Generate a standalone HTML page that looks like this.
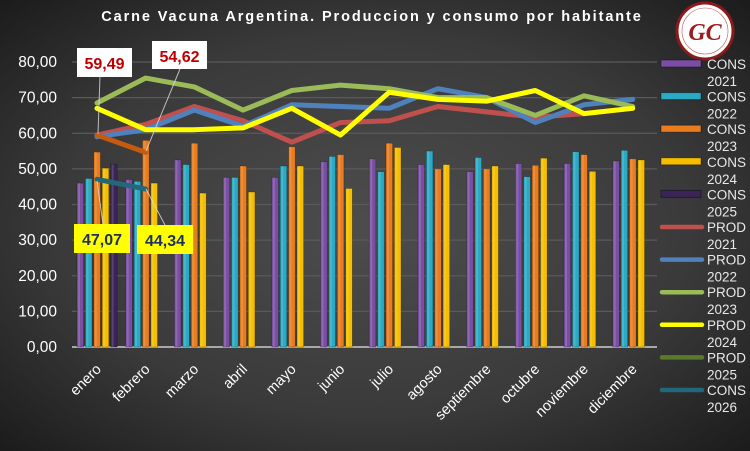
<!DOCTYPE html>
<html><head><meta charset="utf-8"><style>
html,body{margin:0;padding:0;width:750px;height:451px;overflow:hidden;background:#2a2a2a}
svg{display:block;font-family:"Liberation Sans",sans-serif}
</style></head><body>
<svg width="750" height="451" viewBox="0 0 750 451" xmlns="http://www.w3.org/2000/svg">
<defs>
<radialGradient id="bg" cx="50%" cy="50%" r="70%">
<stop offset="0" stop-color="#4d4d4d"/><stop offset="0.6" stop-color="#3a3a3a"/><stop offset="1" stop-color="#1c1c1c"/>
</radialGradient>
</defs>
<rect width="750" height="451" fill="url(#bg)"/>
<text x="372" y="21" fill="#fff" font-size="14.5" font-weight="bold" text-anchor="middle" letter-spacing="1.9">Carne Vacuna Argentina. Produccion y consumo por habitante</text>
<g id="grid" stroke="#5a5a5a" stroke-width="1.2"></g>
<g id="ylab" fill="#fff" font-size="15.5" text-anchor="end"></g>
<line x1="72" y1="347" x2="657" y2="347" stroke="#a8a8a8" stroke-width="2"/>
<g id="bars"></g>
<g id="lines" fill="none" stroke-linejoin="round" stroke-linecap="round"></g>
<g id="xlab" fill="#fff" font-size="14.5"></g>
<g stroke="#ddd" stroke-width="1" opacity="0.8">
<line x1="100" y1="76" x2="98" y2="134"/><line x1="180" y1="69" x2="146" y2="151"/>
<line x1="97" y1="181" x2="103" y2="224"/><line x1="146" y1="189" x2="165" y2="225"/>
</g>
<rect x="77" y="48" width="55" height="29" fill="#fff"/><text x="104.5" y="69" fill="#c00000" font-size="16" font-weight="bold" text-anchor="middle">59,49</text>
<rect x="152" y="41" width="55" height="28" fill="#fff"/><text x="179.5" y="62" fill="#c00000" font-size="16" font-weight="bold" text-anchor="middle">54,62</text>
<rect x="74" y="224" width="56" height="29" fill="#ff0"/><text x="102" y="245" fill="#1f3060" font-size="16" font-weight="bold" text-anchor="middle">47,07</text>
<rect x="137" y="225" width="56" height="29" fill="#ff0"/><text x="165" y="246" fill="#1f3060" font-size="16" font-weight="bold" text-anchor="middle">44,34</text>
<circle cx="705" cy="31" r="28" fill="#fff" stroke="#8b1a1a" stroke-width="3"/>
<circle cx="705" cy="31" r="23" fill="none" stroke="#b55" stroke-width="0.6"/>
<text x="705" y="40" fill="#9b1c1c" font-size="24" font-weight="bold" font-style="italic" text-anchor="middle" font-family="Liberation Serif,serif">GC</text>
<g id="leg" font-size="13.5" fill="#e8e8e8"></g>
</svg>
<script>
const Y=v=>347-3.5625*v;
let g=document.getElementById('grid'),yl=document.getElementById('ylab');
for(let i=0;i<=8;i++){let y=Y(i*10);if(i>0)g.innerHTML+=`<line x1="72" y1="${y}" x2="657" y2="${y}"/>`;yl.innerHTML+=`<text x="57" y="${y+5}">${(i*10).toFixed(2).replace('.',',')}</text>`;}
const cx=i=>97+48.7*i;
const cons=[[46,47,52.5,47.6,47.6,52,52.8,51.2,49.2,51.5,51.5,52.2],[47.3,46.5,51.2,47.6,50.8,53.5,49.2,55,53.2,47.8,54.8,55.2],[54.7,58,57.2,50.8,56.2,54,57.2,50,50,51,54,52.8],[50.2,46,43.2,43.5,50.8,44.5,56,51.2,50.8,53,49.3,52.5],[51.3]];
const bc=['#7a4fa3','#2aaac4','#e87c1e','#f5bf00','#3b2456'];
let b=document.getElementById('bars'),s='';
cons.forEach((arr,k)=>arr.forEach((v,i)=>{let x=cx(i)-21+k*8.4+1;s+=`<rect x="${x}" y="${Y(v)}" width="6.6" height="${347-Y(v)}" fill="${bc[k]}" stroke="rgba(0,0,0,0.35)" stroke-width="0.6"/><rect x="${x+1}" y="${Y(v)}" width="2" height="${347-Y(v)}" fill="rgba(255,255,255,0.15)"/>`;}));
b.innerHTML=s;
const L=[['#c0504d',[59.5,62.5,67.5,63.5,57.5,63,63.5,67.5,66,64.5,65.5,67]],['#4f81bd',[59,61,66.5,62,68,67.5,67,72.5,70,63,68,69.5]],['#9bbb59',[68.5,75.5,73,66.5,72,73.5,72.5,70,70,65,70.5,67.5]],['#ffff00',[67,61,61,61.5,67,59.5,71.5,69.5,69,72,65.5,67]],['#c55a11',[59.5,54.62]],['#23687a',[47.07,44.34]]];
let l=document.getElementById('lines');s='';
L.forEach(([c,a])=>{s+=`<polyline stroke="${c}" stroke-width="5" points="${a.map((v,i)=>cx(i)+','+Y(v)).join(' ')}"/>`;});
l.innerHTML=s;
const M=['enero','febrero','marzo','abril','mayo','junio','julio','agosto','septiembre','octubre','noviembre','diciembre'];
let xl=document.getElementById('xlab');s='';
M.forEach((m,i)=>{let x=cx(i)+5,y=370;s+=`<text x="${x}" y="${y}" text-anchor="end" transform="rotate(-45 ${x} ${y})">${m}</text>`;});
xl.innerHTML=s;
const lg=[['CONS','2021','#7a4fa3',1],['CONS','2022','#2aaac4',1],['CONS','2023','#e87c1e',1],['CONS','2024','#f5bf00',1],['CONS','2025','#3b2456',1],['PROD','2021','#c0504d',0],['PROD','2022','#4f81bd',0],['PROD','2023','#9bbb59',0],['PROD','2024','#ffff00',0],['PROD','2025','#5a7a2a',0],['CONS','2026','#23687a',0]];
let le=document.getElementById('leg');s='';
lg.forEach(([a,bb,c,t],i)=>{let y=64+i*32.6;
s+=t?`<rect x="661" y="${y-4}" width="40" height="7" fill="${c}" stroke="rgba(0,0,0,0.4)"/>`:`<line x1="662" y1="${y}" x2="702" y2="${y}" stroke="${c}" stroke-width="4.5" stroke-linecap="round"/>`;
s+=`<text x="707" y="${y+5}">${a}</text><text x="707" y="${y+22}">${bb}</text>`;});
le.innerHTML=s;
</script>
</body></html>
